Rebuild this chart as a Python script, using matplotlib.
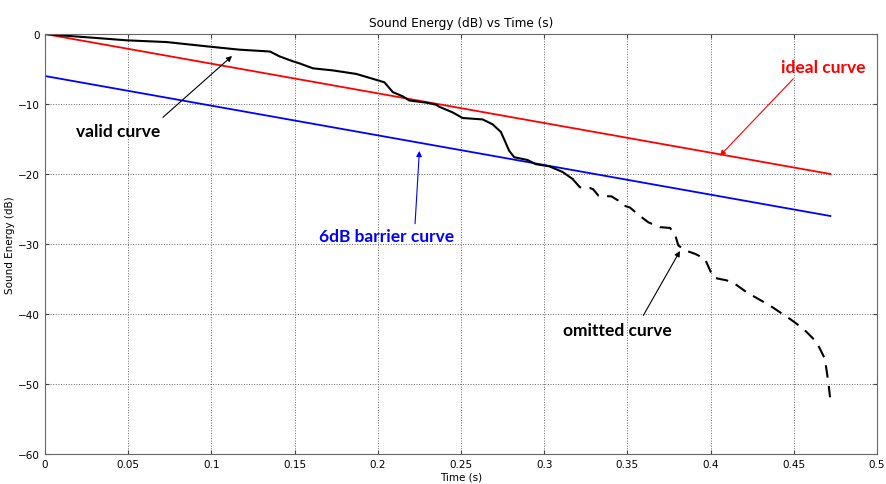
import matplotlib
matplotlib.use("Agg")
import matplotlib.pyplot as plt

# measured decay curve (solid part = valid)
valid_t = [0, 0.01, 0.03, 0.049, 0.0731, 0.0972, 0.117, 0.1352, 0.141, 0.149,
           0.153, 0.161, 0.173, 0.187, 0.197, 0.204, 0.209, 0.215, 0.219, 0.229,
           0.235, 0.237, 0.245, 0.251, 0.263, 0.269, 0.274, 0.279, 0.282, 0.290,
           0.295, 0.303, 0.311, 0.317]
valid_db = [0, -0.2, -0.55, -0.9, -1.15, -1.76, -2.24, -2.5, -3.2, -3.9,
            -4.2, -4.9, -5.2, -5.7, -6.4, -6.9, -8.3, -8.9, -9.5, -9.8,
            -10.1, -10.4, -11.2, -12.0, -12.2, -12.9, -14.0, -16.7, -17.6, -18.0,
            -18.6, -18.9, -19.7, -20.7]

# dashed tail (omitted)
omit_t = [0.317, 0.3215, 0.3275, 0.3295, 0.3326, 0.3405, 0.3445, 0.3466, 0.3516,
          0.3576, 0.3626, 0.3696, 0.3756, 0.3786, 0.3806, 0.3846, 0.3906, 0.3966,
          0.4016, 0.4097, 0.4147, 0.4217, 0.4357, 0.4477, 0.4557, 0.4637, 0.4687,
          0.4708, 0.4718]
omit_db = [-20.7, -21.9, -22.0, -22.2, -23.1, -23.2, -23.8, -24.4, -24.8,
           -26.0, -26.9, -27.6, -27.7, -28.6, -30.2, -30.9, -31.4, -32.1,
           -34.8, -35.2, -35.7, -36.9, -38.8, -40.7, -42.1, -44.0, -46.4,
           -49.8, -51.9]

# straight reference lines
line_t = [0, 0.472]
ideal_db = [0, -20]
barrier_db = [-6, -26]

x_ticks = [0, 0.05, 0.1, 0.15, 0.2, 0.25, 0.3, 0.35, 0.4, 0.45, 0.5]
x_labels = ["0", "0.05", "0.1", "0.15", "0.2", "0.25", "0.3", "0.35", "0.4", "0.45", "0.5"]
y_ticks = [-60, -50, -40, -30, -20, -10, 0]

fig = plt.figure(figsize=(8.86, 4.85), dpi=100)
ax = fig.add_axes([0.0508, 0.0619, 0.939, 0.8659])

ax.plot(line_t, ideal_db, color="red", lw=1.3)
ax.plot(line_t, barrier_db, color="blue", lw=1.3)
ax.plot(valid_t, valid_db, color="black", lw=1.5)
ax.plot(omit_t, omit_db, color="black", lw=1.5, dashes=(6, 4))

ax.set_xlim(0, 0.5)
ax.set_ylim(-60, 0)
ax.set_xticks(x_ticks)
ax.set_xticklabels(x_labels)
ax.set_yticks(y_ticks)
ax.grid(True, linestyle=":", color="#666666", lw=0.7)
ax.tick_params(direction="in", top=True, right=True, labelsize=7.5, length=3, color="#444444")
for s in ax.spines.values():
    s.set_color("#666666")

ax.set_title("Sound Energy (dB) vs Time (s)", fontsize=8.7, pad=6)
ax.set_xlabel("Time (s)", fontsize=7.5, labelpad=2)
ax.set_ylabel("Sound Energy (dB)", fontsize=7.5, labelpad=2)

lab = dict(fontsize=12.5, fontweight="bold", family="Lato", ha="center", va="center")
arr = lambda c: dict(arrowstyle="-|>", color=c, lw=0.8, mutation_scale=8, shrinkA=0, shrinkB=0)

ax.text(0.0439, -13.9, "valid curve", color="black", **lab)
ax.annotate("", xy=(0.1124, -3.14), xytext=(0.0709, -11.9), arrowprops=arr("black"))

ax.text(0.4675, -4.7, "ideal curve", color="red", **lab)
ax.annotate("", xy=(0.4056, -17.4), xytext=(0.4497, -6.4), arrowprops=arr("red"))

ax.text(0.2055, -28.9, "6dB barrier curve", color="blue", **lab)
ax.annotate("", xy=(0.225, -16.7), xytext=(0.2224, -27.1), arrowprops=arr("blue"))

ax.text(0.3438, -42.3, "omitted curve", color="black", **lab)
ax.annotate("", xy=(0.3816, -31.0), xytext=(0.3596, -40.2), arrowprops=arr("black"))

fig.savefig("out.png", dpi=100)
